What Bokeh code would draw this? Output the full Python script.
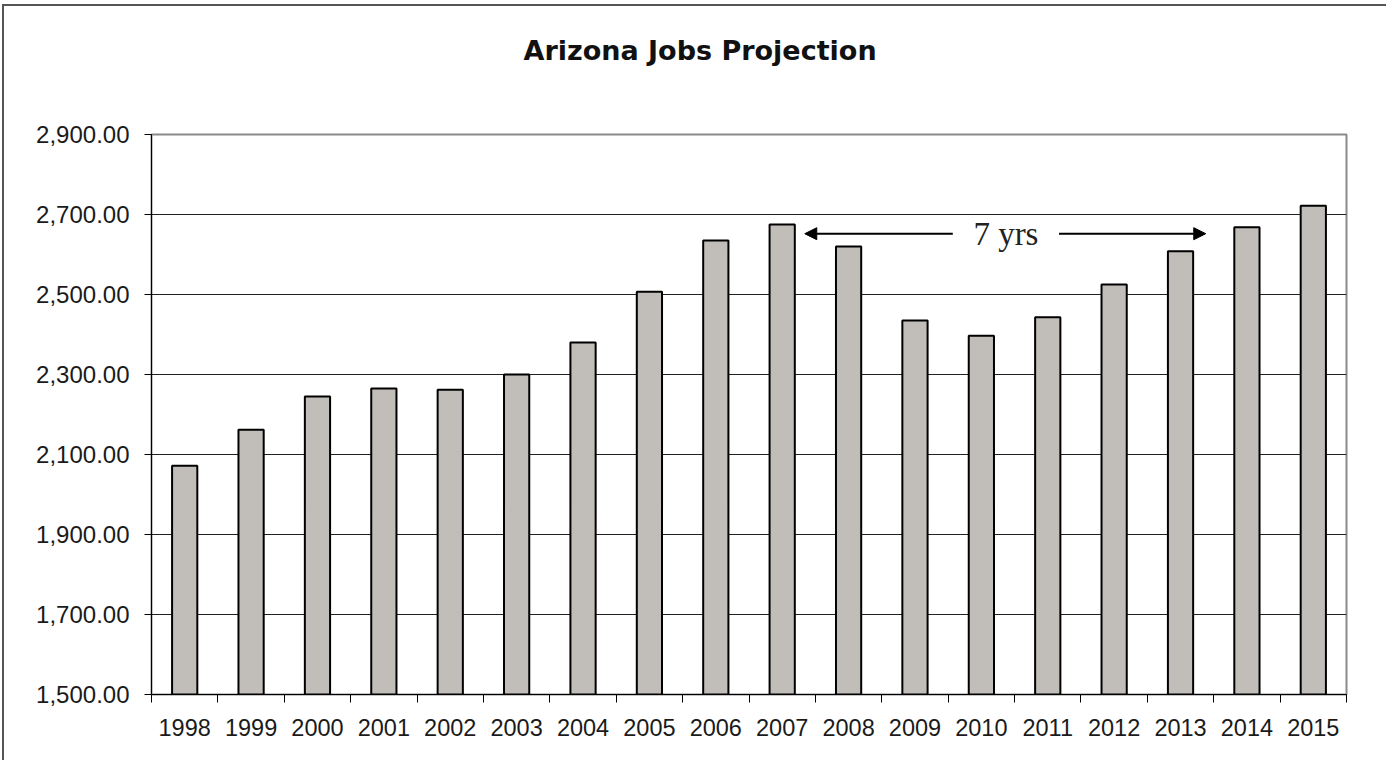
from bokeh.plotting import figure
from bokeh.models import (Range1d, FixedTicker, NumeralTickFormatter, Arrow,
                          NormalHead, Label, Title, ColumnDataSource)
from bokeh.embed import file_html
from bokeh.resources import INLINE

# ---- data ----
years = ["1998", "1999", "2000", "2001", "2002", "2003", "2004", "2005", "2006",
         "2007", "2008", "2009", "2010", "2011", "2012", "2013", "2014", "2015"]
jobs = [2072, 2162, 2245, 2265, 2262, 2300, 2380, 2507, 2635,
        2675, 2620, 2435, 2397, 2443, 2525, 2608, 2668, 2722]
y_ticks = [1500, 1700, 1900, 2100, 2300, 2500, 2700, 2900]
title_text = "Arizona Jobs Projection"
span_from, span_to, span_label = "2007", "2013", "7 yrs"
span_level = 2652

n = len(years)
centers = [i + 0.5 for i in range(n)]
src = ColumnDataSource(dict(x=centers, top=jobs, year=years))

p = figure(frame_width=1195, frame_height=560,
           x_range=Range1d(0, n), y_range=Range1d(y_ticks[0], y_ticks[-1]),
           output_backend="svg", toolbar_location=None,
           min_border_left=147, min_border_right=40,
           min_border_top=128, min_border_bottom=66,
           styles={"border-top": "2px solid #555555",
                   "border-left": "2px solid #555555",
                   "margin-left": "2px", "margin-top": "4px"})

# spacer panel between frame and title, so the title sits high up
p.add_layout(Title(text=" ", text_font_size="1px", standoff=66), "above")

p.title = Title(text=title_text, align="left", text_font="DejaVu Sans",
                text_font_style="bold", text_font_size="27px",
                text_color="#111111", standoff=0, offset=372)

p.vbar(x="x", top="top", bottom=y_ticks[0], width=0.38, source=src,
       fill_color="#C1BDB9", line_color="#000000", line_width=2)

# x axis: labels at category centres, ticks at category boundaries
xa = p.xaxis[0]
xa.ticker = FixedTicker(ticks=centers, minor_ticks=list(range(n + 1)))
xa.major_label_overrides = {c: y for c, y in zip(centers, years)}
xa.major_tick_out = 0
xa.major_tick_in = 0
xa.minor_tick_out = 8
xa.minor_tick_in = 0
xa.minor_tick_line_color = "#000000"
xa.axis_line_color = "#000000"
xa.axis_line_width = 1
xa.major_label_standoff = 16
xa.major_label_text_font = "Liberation Sans"
xa.major_label_text_font_size = "23.5px"
xa.major_label_text_color = "#1a1a1a"

ya = p.yaxis[0]
ya.ticker = FixedTicker(ticks=y_ticks)
ya.formatter = NumeralTickFormatter(format="0,0.00")
ya.major_tick_out = 7
ya.major_tick_in = 0
ya.minor_tick_out = 0
ya.minor_tick_in = 0
ya.major_tick_line_color = "#000000"
ya.axis_line_color = "#000000"
ya.major_label_standoff = 15
ya.major_label_text_font = "Liberation Sans"
ya.major_label_text_font_size = "24px"
ya.major_label_text_color = "#1a1a1a"

p.xgrid.grid_line_color = None
p.ygrid.ticker = FixedTicker(ticks=y_ticks)
p.ygrid.grid_line_color = "#222222"
p.ygrid.grid_line_width = 1

p.outline_line_color = "#8a8a8a"
p.outline_line_width = 2
p.background_fill_color = "white"
p.border_fill_color = "white"

# "7 yrs" double arrow annotation
i0 = years.index(span_from)
i1 = years.index(span_to)
left_tip = i0 + 0.84
right_tip = i1 + 0.88
mid = (left_tip + right_tip) / 2 + 0.01
gap = 0.80
p.add_layout(Arrow(x_start=mid - gap, y_start=span_level, x_end=left_tip, y_end=span_level,
                   line_width=2, line_color="#000000",
                   end=NormalHead(size=12, fill_color="#000000", line_color="#000000")))
p.add_layout(Arrow(x_start=mid + gap, y_start=span_level, x_end=right_tip, y_end=span_level,
                   line_width=2, line_color="#000000",
                   end=NormalHead(size=12, fill_color="#000000", line_color="#000000")))
p.add_layout(Label(x=mid, y=span_level, text=span_label, text_align="center",
                   text_baseline="middle", text_font="Liberation Serif",
                   text_font_size="33px", text_color="#222222"))

open("out.html", "w").write(file_html(p, INLINE))
